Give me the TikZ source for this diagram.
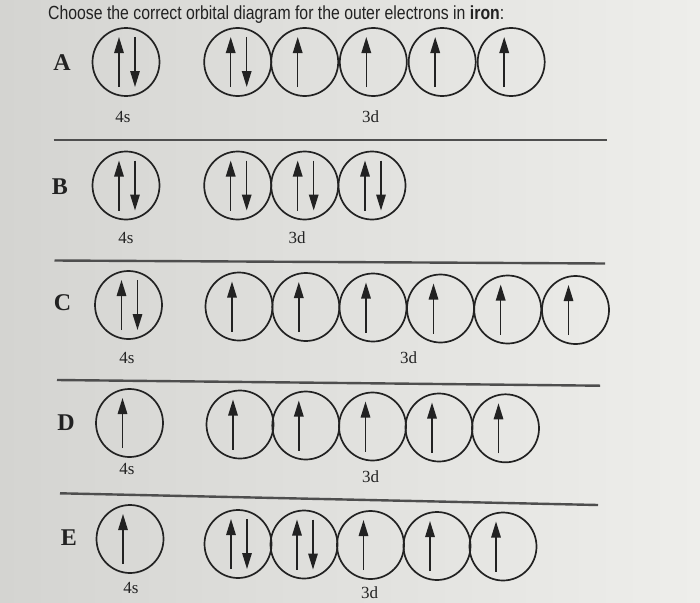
\documentclass[tikz,border=0pt]{standalone}
\usepackage{fontspec}
\setmainfont{Liberation Serif}
\newfontfamily\titlefont{Liberation Sans}
\usetikzlibrary{shapes.geometric,arrows.meta}
\definecolor{bgA}{RGB}{212,212,209}
\definecolor{bgB}{RGB}{238,238,235}
\definecolor{ink}{RGB}{34,34,34}
\definecolor{rulecol}{RGB}{78,78,78}
\tikzset{
  orb/.style={draw=ink, line width=1.7pt, ellipse, minimum width=67pt, minimum height=68pt, inner sep=0pt},
  spin/.style={draw=ink, line width=1.5pt, -{Triangle[length=16pt,width=9.5pt]}},
  rowlab/.style={font=\fontsize{24}{24}\selectfont\bfseries, text=ink, inner sep=0pt},
  sublab/.style={font=\fontsize{17}{17}\selectfont, text=ink, inner sep=0pt},
  seprule/.style={draw=rulecol, line width=2.4pt},
}
\newcommand\orbU[3]{%
  \node[orb] (#1) at (#2,#3) {};
  \draw[spin] ([shift={(-7pt,-25pt)}]#1.center) -- ([shift={(-7pt,25pt)}]#1.center);}
\newcommand\orbUD[3]{%
  \node[orb] (#1) at (#2,#3) {};
  \draw[spin] ([shift={(-7pt,-25pt)}]#1.center) -- ([shift={(-7pt,25pt)}]#1.center);
  \draw[spin] ([shift={(9pt,25pt)}]#1.center) -- ([shift={(9pt,-25pt)}]#1.center);}
\begin{document}
\begin{tikzpicture}[x=1pt,y=-1pt]
\shade[left color=bgA, right color=bgB] (0,0) rectangle (700,602);
\useasboundingbox (0,0) rectangle (700,602);
% title
\node[anchor=base west, inner sep=0pt, text=ink] (title) at (48,20)
  {\resizebox{456pt}{\height}{\titlefont\fontsize{19}{20}\selectfont Choose the correct orbital diagram for the outer electrons in \textbf{iron}:}};
% row A
\node[rowlab] (labA) at (62,63) {A};
\orbUD{a4s}{126}{62}
\orbUD{a3d1}{237.7}{62}
\orbU{a3d2}{304.7}{62}
\orbU{a3d3}{373.3}{62}
\orbU{a3d4}{442.2}{62}
\orbU{a3d5}{511.2}{62}
\node[sublab] (a4slab) at (123,117) {4s};
\node[sublab] (a3dlab) at (370.5,117) {3d};
\draw[seprule] (53.6,140) -- (607,140);
% row B
\node[rowlab] (labB) at (60,186.5) {B};
\orbUD{b4s}{126}{185.5}
\orbUD{b3d1}{237.7}{185.5}
\orbUD{b3d2}{304.7}{185.5}
\orbUD{b3d3}{372}{185.5}
\node[sublab] (b4slab) at (126,238) {4s};
\node[sublab] (b3dlab) at (297,238) {3d};
\draw[seprule] (54.5,260.5) -- (605,263.5);
% row C
\node[rowlab] (labC) at (62.5,303) {C};
\orbUD{c4s}{128.5}{305}
\orbU{c3d1}{239}{306.5}
\orbU{c3d2}{305.8}{307}
\orbU{c3d3}{373}{307.5}
\orbU{c3d4}{440.5}{308.5}
\orbU{c3d5}{507.7}{309.5}
\orbU{c3d6}{575.5}{310}
\node[sublab] (c4slab) at (127,358) {4s};
\node[sublab] (c3dlab) at (408.5,358) {3d};
\draw[seprule] (57,380) -- (600,385.7);
% row D
\node[rowlab] (labD) at (66,423) {D};
\orbU{d4s}{129.5}{423}
\orbU{d3d1}{240}{424.5}
\orbU{d3d2}{305.8}{425.5}
\orbU{d3d3}{372.5}{426.5}
\orbU{d3d4}{439}{427.5}
\orbU{d3d5}{505.5}{428.3}
\node[sublab] (d4slab) at (127,469) {4s};
\node[sublab] (d3dlab) at (370.5,477) {3d};
\draw[seprule] (60,493.3) -- (598,505);
% row E
\node[rowlab] (labE) at (69,538) {E};
\orbU{e4s}{130}{539}
\orbUD{e3d1}{238}{544}
\orbUD{e3d2}{304}{544.5}
\orbU{e3d3}{370.5}{545}
\orbU{e3d4}{437}{546}
\orbU{e3d5}{503}{546.5}
\node[sublab] (e4slab) at (131,588) {4s};
\node[sublab] (e3dlab) at (369.6,593) {3d};
\end{tikzpicture}
\end{document}
